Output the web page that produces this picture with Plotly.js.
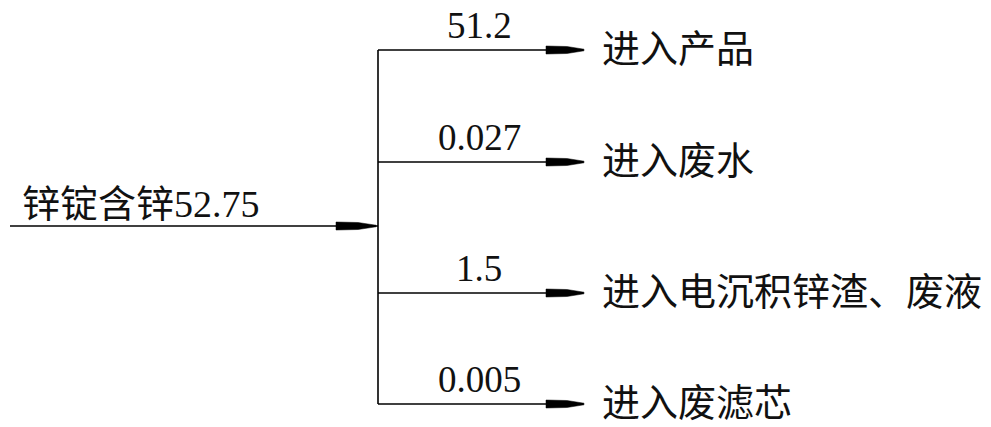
<!DOCTYPE html>
<html><head><meta charset="utf-8">
<script src="https://cdn.plot.ly/plotly-3.0.1.min.js"></script>
<style>html,body{margin:0;padding:0;background:#fff}#c{width:991px;height:427px}</style>
</head><body><div id="c"></div>
<script>
// Data
const sourceName = "锌锭含锌";
const sourceValue = 52.75;
const branchNames = ["进入产品", "进入废水", "进入电沉积锌渣、废液", "进入废滤芯"];
const branchValues = ["51.2", "0.027", "1.5", "0.005"];

// Layout constants (pixel-space diagram)
const W = 991, H = 427;
const branchY = [50, 162, 293, 404];
const srcY = 226, srcX0 = 10, busX = 378, tipX = 584, labelX = 600, valueX = 479;
const FONT = "'Liberation Serif', 'Noto Sans CJK SC', serif";
const CJK = "'Noto Sans CJK SC', sans-serif";

const traces = [];
const line = {color: "#000", width: 1.6};
traces.push({x: [srcX0, busX], y: [srcY, srcY], mode: "lines", line, hoverinfo: "skip"});
traces.push({x: [busX, busX], y: [branchY[0], branchY[branchY.length - 1]], mode: "lines", line, hoverinfo: "skip"});
branchY.forEach(y => traces.push({x: [busX, tipX - 10], y: [y, y], mode: "lines", line, hoverinfo: "skip"}));

function arrow(tip, y, len) {
  const a = tip - len, b = tip - len * 0.45;
  return {type: "path", xref: "x", yref: "y",
    path: `M ${a} ${y - 4} L ${b} ${y - 3.5} L ${tip} ${y - 0.8} L ${tip} ${y + 0.8} L ${b} ${y + 3.5} L ${a} ${y + 4} Z`,
    fillcolor: "#000", line: {color: "#000", width: 0.5}};
}
const shapes = [arrow(busX - 2, srcY, 40)];
branchY.forEach(y => shapes.push(arrow(tipX, y, 38)));

const annotations = [];
annotations.push({x: 20, y: srcY - 26, xref: "x", yref: "y", xanchor: "left", yanchor: "middle",
  text: `<span style="font-family:${CJK};font-size:38px">${sourceName}</span>${sourceValue}`,
  showarrow: false, font: {family: FONT, size: 38, color: "#111"}});
branchNames.forEach((n, i) => {
  annotations.push({x: labelX, y: branchY[i] - 5, xref: "x", yref: "y", xanchor: "left", yanchor: "middle",
    text: n, showarrow: false, font: {family: CJK, size: 38, color: "#111"}});
  annotations.push({x: valueX, y: branchY[i] - 25, xref: "x", yref: "y", xanchor: "center", yanchor: "middle",
    text: branchValues[i], showarrow: false, font: {family: FONT, size: 37, color: "#111"}});
});

Plotly.newPlot("c", traces, {
  width: W, height: H, margin: {l: 0, r: 0, t: 0, b: 0},
  paper_bgcolor: "#fff", plot_bgcolor: "#fff", showlegend: false,
  xaxis: {range: [0, W], visible: false, fixedrange: true},
  yaxis: {range: [H, 0], visible: false, fixedrange: true},
  shapes, annotations
}, {staticPlot: true});
</script></body></html>
